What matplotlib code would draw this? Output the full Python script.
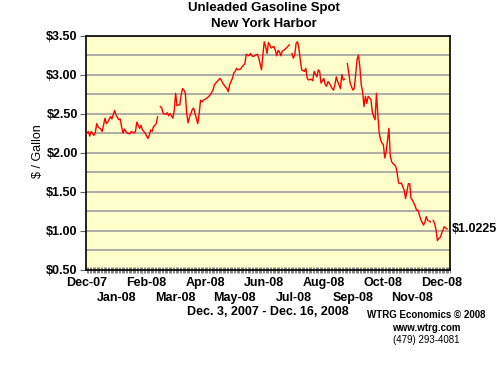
import numpy as np
import matplotlib
matplotlib.use("Agg")
import matplotlib.pyplot as plt
import matplotlib.transforms as mtransforms

plt.rcParams['font.family'] = ['Liberation Sans', 'DejaVu Sans']

# trading day index (0 = Dec 3, 2007) and spot price ($/gal), nan = gap in the series
DAY = [0, 1, 2, 3, 5, 6, 7, 8, 10, 11, 13, 14, 15, 17, 18, 19, 20, 21, 23, 24,
       25, 26, 27, 29, 31, 32, 34, 35, 36, 38, 39, 40, 42, 44, 45, 46, 47, 48, 50, 51,
       52,
       53, 54, 55, 57, 58, 59, 60, 62, 63, 64, 65, 66, 67, 68, 69, 70, 71, 72, 73,
       74, 76, 77, 78, 80, 81, 82, 83, 84, 85, 86, 88, 89, 91, 92, 94, 96, 97, 98, 100,
       101, 102, 103, 105, 106, 107, 108, 109, 111, 112, 113, 114, 115, 117, 118, 119, 120, 122, 123, 124,
       125, 126, 127, 128, 129, 130, 131, 132, 133, 135, 136, 137, 138, 139, 140, 141, 142, 144, 145, 146,
       147,
       148, 149, 150, 151, 152, 153, 154, 155, 157, 158, 159, 160, 162, 163, 164, 166, 167, 168, 169, 171,
       172, 173, 174, 175, 177, 178, 179, 180, 181, 183, 184, 185, 186,
       187,
       188, 189, 190, 192, 193, 195, 196, 197, 198, 199, 200, 201, 202, 203, 204, 205, 206, 207, 208, 209,
       210, 211, 212, 213, 214, 215, 216, 217, 218, 219, 220, 221, 223, 224, 225, 226, 227, 228, 229, 230,
       231, 232, 233, 234, 235, 236, 237, 238, 239, 240, 241, 243, 244, 245, 246, 248,
       249,
       250, 251, 252, 253, 254, 255, 256, 258, 259, 260]

PRICE = [2.25, 2.27, 2.21, 2.27, 2.22, 2.25, 2.37, 2.33, 2.30, 2.27, 2.44, 2.37, 2.39, 2.46, 2.43, 2.49, 2.54, 2.48, 2.42, 2.43,
         2.33, 2.25, 2.30, 2.25, 2.24, 2.27, 2.25, 2.27, 2.39, 2.31, 2.35, 2.29, 2.25, 2.18, 2.22, 2.29, 2.27, 2.33, 2.37, 2.46,
         np.nan,
         2.59, 2.57, 2.50, 2.49, 2.51, 2.47, 2.50, 2.44, 2.54, 2.76, 2.60, 2.61, 2.61, 2.74, 2.82, 2.80, 2.76, 2.50, 2.38,
         2.45, 2.55, 2.57, 2.50, 2.37, 2.50, 2.67, 2.65, 2.67, 2.68, 2.69, 2.72, 2.74, 2.80, 2.87, 2.91, 2.95, 2.93, 2.89, 2.84,
         2.82, 2.78, 2.87, 2.95, 3.02, 3.04, 3.08, 3.06, 3.07, 3.10, 3.12, 3.14, 3.26, 3.24, 3.27, 3.24, 3.23, 3.25, 3.26, 3.21,
         3.14, 3.06, 3.25, 3.42, 3.36, 3.27, 3.41, 3.38, 3.34, 3.36, 3.31, 3.24, 3.31, 3.29, 3.24, 3.30, 3.31, 3.34, 3.36, 3.38,
         np.nan,
         3.27, 3.21, 3.25, 3.40, 3.42, 3.34, 3.19, 3.06, 3.04, 3.08, 2.95, 2.93, 2.94, 2.92, 3.04, 2.97, 3.06, 3.04, 2.89, 2.95,
         2.87, 2.85, 2.91, 2.89, 2.82, 2.80, 2.87, 2.97, 2.91, 2.82, 3.00, 2.93, 2.94,
         np.nan,
         3.14, 3.02, 2.89, 2.80, 2.82, 3.19, 3.25, 3.10, 2.87, 2.78, 2.59, 2.72, 2.63, 2.72, 2.70, 2.68, 2.52, 2.46, 2.42, 2.76,
         2.48, 2.25, 2.16, 2.12, 2.10, 1.93, 2.01, 2.16, 2.31, 1.95, 1.88, 1.86, 1.82, 1.73, 1.61, 1.60, 1.61, 1.56, 1.52, 1.41,
         1.50, 1.60, 1.60, 1.41, 1.39, 1.35, 1.31, 1.26, 1.26, 1.20, 1.14, 1.07, 1.11, 1.18, 1.13, 1.11,
         np.nan,
         1.13, 1.09, 1.01, 0.87, 0.90, 0.91, 0.96, 1.05, 1.03, 1.02]

MONTHS = ["Dec-07", "Jan-08", "Feb-08", "Mar-08", "Apr-08", "May-08", "Jun-08",
          "Jul-08", "Aug-08", "Sep-08", "Oct-08", "Nov-08", "Dec-08"]
LAST = 1.0225
YTICKS = [0.5, 1.0, 1.5, 2.0, 2.5, 3.0, 3.5]

fig = plt.figure(figsize=(5, 3.75), dpi=100)
ax = fig.add_axes([0.172, 0.2813, 0.728, 0.624])
ax.set_facecolor('#FFFFCC')

ax.plot(DAY, PRICE, color='#FF0000', lw=1.0, zorder=3)

ax.set_xlim(-0.7, 262.1)
ax.set_ylim(0.5, 3.5)

# grid every 25 cents, labels every 50
ax.set_yticks(YTICKS)
ax.set_yticklabels(['$%.2f' % v for v in YTICKS], fontweight='bold', fontsize=9)
ax.set_yticks(np.arange(0.75, 3.5, 0.5), minor=True)
ax.grid(axis='y', which='both', color='#A0A0A0', lw=1.2)
ax.tick_params(axis='y', which='major', length=4, width=0.8, color='#606060', pad=2)
ax.tick_params(axis='y', which='minor', length=0)

# dense category ticks along the bottom
ax.set_xticks(np.arange(0, 263, 1))
ax.set_xticklabels([])
ax.tick_params(axis='x', which='major', direction='inout', length=5, width=0.7, color='#808080')

for s in ax.spines.values():
    s.set_color('black')
    s.set_linewidth(1.2)

trans = mtransforms.blended_transform_factory(ax.transData, ax.transAxes)
pos = np.linspace(0, 256, len(MONTHS))
for i, (p, m) in enumerate(zip(pos, MONTHS)):
    yy = -0.058 if i % 2 == 0 else -0.122
    ax.text(p, yy, m, transform=trans, ha='center', va='center',
            fontsize=9, fontweight='bold', clip_on=False)

ax.annotate('$%.4f' % LAST, xy=(1.005, LAST), xycoords=('axes fraction', 'data'),
            ha='left', va='center', fontsize=9, fontweight='bold', annotation_clip=False)

fig.text(0.527, 1 - 7.5 / 375, 'Unleaded Gasoline Spot', ha='center', va='center',
         fontsize=9.5, fontweight='bold')
fig.text(0.527, 1 - 24 / 375, 'New York Harbor', ha='center', va='center',
         fontsize=9.5, fontweight='bold')
fig.text(38 / 500, 1 - 151 / 375, '$ / Gallon', rotation=90, ha='center', va='center', fontsize=9)
fig.text(268 / 500, 1 - 312 / 375, 'Dec. 3, 2007 - Dec. 16, 2008', ha='center', va='center',
         fontsize=9, fontweight='bold')
fig.text(426 / 500, 1 - 315 / 375, 'WTRG Economics \u00a9 2008', ha='center', va='center',
         fontsize=7, fontweight='bold')
fig.text(426 / 500, 1 - 328 / 375, 'www.wtrg.com', ha='center', va='center',
         fontsize=7, fontweight='bold')
fig.text(426 / 500, 1 - 340 / 375, '(479) 293-4081', ha='center', va='center', fontsize=7)

fig.savefig('out.png', dpi=100, facecolor='white')
